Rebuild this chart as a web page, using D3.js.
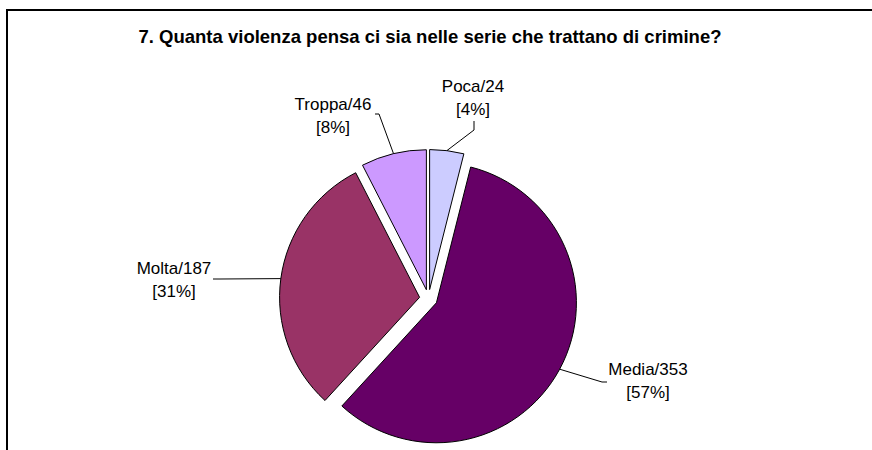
<!DOCTYPE html>
<html>
<head>
<meta charset="utf-8">
<script src="https://cdn.jsdelivr.net/npm/d3@7"></script>
<style>
  html, body { margin: 0; padding: 0; background: #fff; }
  svg { display: block; }
  text { font-family: "Liberation Sans", Arial, sans-serif; fill: #000; }
</style>
</head>
<body>
<svg id="chart" width="872" height="450"></svg>
<script>
// Survey answers, in clockwise order from 12 o'clock
const categories = ["Poca", "Media", "Molta", "Troppa"];
const counts = [24, 353, 187, 46];
const percentLabels = [4, 57, 31, 8];   // rounded shares, summing to 100
const colors = ["#CCCCFF", "#660066", "#993366", "#CC99FF"];
const title = "7. Quanta violenza pensa ci sia nelle serie che trattano di crimine?";

const W = 872, H = 450;
const cx = 428.5, cy = 298.5;   // pie centre
const radius = 140;
const explode = 9;              // every slice pulled out from the centre

// label text anchors and leader-line elbows
const labelLayout = {
  Poca:   { x: 473, y: 92,  elbow: [[474, 130], [474, 121]] },
  Media:  { x: 648, y: 375, elbow: [[602, 382], [607, 382]] },
  Molta:  { x: 174, y: 274, elbow: [[220, 279], [213, 279]] },
  Troppa: { x: 333, y: 110, elbow: [[379, 114], [375, 114]] }
};

const svg = d3.select("#chart");

// frame
svg.append("rect")
  .attr("x", 7).attr("y", 10)
  .attr("width", W + 20).attr("height", H + 20)
  .attr("fill", "none").attr("stroke", "#000").attr("stroke-width", 2);

svg.append("text")
  .attr("x", 430).attr("y", 43)
  .attr("text-anchor", "middle")
  .style("font-weight", "bold").style("font-size", "18.5px")
  .text(title);

const data = categories.map((c, i) => ({ name: c, value: counts[i], pct: percentLabels[i], color: colors[i] }));

const pie = d3.pie().value(d => d.value).sort(null);
const arcs = pie(data);
const arc = d3.arc().innerRadius(0).outerRadius(radius);

const g = svg.append("g").attr("transform", `translate(${cx},${cy})`);

function offset(d) {
  const a = (d.startAngle + d.endAngle) / 2;
  return [explode * Math.sin(a), -explode * Math.cos(a)];
}

g.selectAll("path.slice")
  .data(arcs)
  .join("path")
  .attr("class", "slice")
  .attr("transform", d => { const o = offset(d); return `translate(${o[0]},${o[1]})`; })
  .attr("d", arc)
  .attr("fill", d => d.data.color)
  .attr("stroke", "#000")
  .attr("stroke-width", 1);

// leader lines from the rim of each slice to its label
const line = d3.line();
arcs.forEach(d => {
  const a = (d.startAngle + d.endAngle) / 2;
  const o = offset(d);
  const rim = [cx + o[0] + radius * Math.sin(a), cy + o[1] - radius * Math.cos(a)];
  const L = labelLayout[d.data.name];
  svg.append("path")
    .attr("d", line([rim, ...L.elbow]))
    .attr("fill", "none").attr("stroke", "#000").attr("stroke-width", 1);
});

// labels: "name/count" and "[percent]"
arcs.forEach(d => {
  const L = labelLayout[d.data.name];
  const t = svg.append("text")
    .attr("x", L.x).attr("y", L.y)
    .attr("text-anchor", "middle")
    .style("font-size", "17px");
  t.append("tspan").attr("x", L.x).text(`${d.data.name}/${d.data.value}`);
  t.append("tspan").attr("x", L.x).attr("dy", 23).text(`[${d.data.pct}%]`);
});
</script>
</body>
</html>
